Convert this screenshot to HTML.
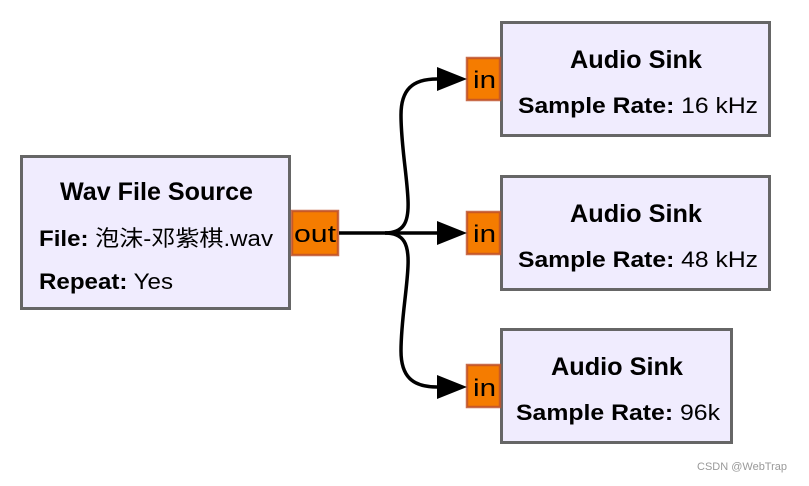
<!DOCTYPE html>
<html><head><meta charset="utf-8"><style>
html,body{margin:0;padding:0;background:#fff;}
text{font-family:"Liberation Sans","Noto Sans CJK SC",sans-serif;fill:#000;}
</style></head><body>
<svg width="809" height="481" viewBox="0 0 809 481" xmlns="http://www.w3.org/2000/svg">
<g fill="#f0ecfe" stroke="#666" stroke-width="3">
<rect x="21.5" y="156.5" width="268" height="152"/>
<rect x="501.5" y="22.5" width="268" height="113"/>
<rect x="501.5" y="176.5" width="268" height="113"/>
<rect x="501.5" y="329.5" width="230" height="113"/>
</g>
<g fill="#f57c00" stroke="#c0532c" stroke-width="2.5" stroke-opacity="0.85">
<rect x="292" y="211" width="46" height="44"/>
<rect x="467" y="58" width="33" height="42"/>
<rect x="467" y="212" width="33" height="42"/>
<rect x="467" y="365" width="33" height="42"/>
</g>
<g fill="none" stroke="#000" stroke-width="3.5">
<path d="M339,233 H437"/>
<path d="M385,233 C404,233 409,222 408,200 C407,175 401,145 401,115 C401,90 412,79 437,79"/>
<path d="M385,233 C404,233 409,244 408,266 C407,291 401,321 401,351 C401,376 412,387 437,387"/>
</g>
<g fill="#000">
<polygon points="437,67 467,79 437,91"/>
<polygon points="437,221 467,233 437,245"/>
<polygon points="437,375 467,387 437,399"/>
</g>
<g font-size="24">
<text x="294" y="242" textLength="42" lengthAdjust="spacingAndGlyphs">out</text>
<text x="473" y="88" textLength="23" lengthAdjust="spacingAndGlyphs">in</text>
<text x="473" y="242" textLength="23" lengthAdjust="spacingAndGlyphs">in</text>
<text x="473" y="396" textLength="23" lengthAdjust="spacingAndGlyphs">in</text>
</g>
<g font-size="25" font-weight="bold">
<text x="60" y="200" textLength="193" lengthAdjust="spacingAndGlyphs">Wav File Source</text>
<text x="570" y="68" textLength="132" lengthAdjust="spacingAndGlyphs">Audio Sink</text>
<text x="570" y="222" textLength="132" lengthAdjust="spacingAndGlyphs">Audio Sink</text>
<text x="551" y="375" textLength="132" lengthAdjust="spacingAndGlyphs">Audio Sink</text>
</g>
<g font-size="22">
<text x="39" y="246" textLength="234" lengthAdjust="spacingAndGlyphs"><tspan font-weight="bold">File:</tspan> 泡沫-邓紫棋.wav</text>
<text x="39" y="289" textLength="134" lengthAdjust="spacingAndGlyphs"><tspan font-weight="bold">Repeat:</tspan> Yes</text>
<text x="518" y="113" textLength="240" lengthAdjust="spacingAndGlyphs"><tspan font-weight="bold">Sample Rate:</tspan> 16 kHz</text>
<text x="518" y="267" textLength="240" lengthAdjust="spacingAndGlyphs"><tspan font-weight="bold">Sample Rate:</tspan> 48 kHz</text>
<text x="516" y="420" textLength="204" lengthAdjust="spacingAndGlyphs"><tspan font-weight="bold">Sample Rate:</tspan> 96k</text>
</g>
<text x="697" y="470" font-size="11" style="fill:#999">CSDN @WebTrap</text>
</svg>
</body></html>
